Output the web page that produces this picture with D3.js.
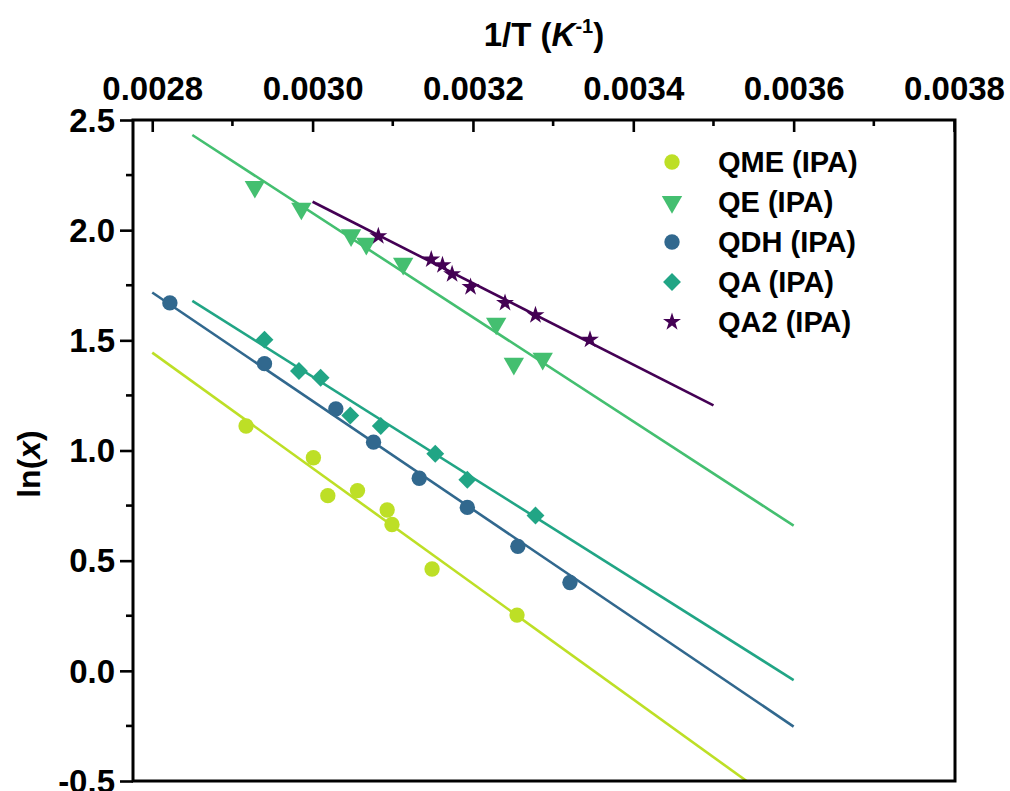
<!DOCTYPE html>
<html>
<head>
<meta charset="utf-8">
<script src="https://cdn.jsdelivr.net/npm/d3@7"></script>
<style>
  body { margin: 0; background: #ffffff; }
  text { font-family: "Liberation Sans", Arial, sans-serif; font-weight: bold; fill: #000; }
</style>
</head>
<body>
<div id="chart"></div>
<script>
// data: 1/T (K^-1) against ln(x)
var seriesNames = ["QME (IPA)", "QE (IPA)", "QDH (IPA)", "QA (IPA)", "QA2 (IPA)"];
var seriesColors = ["#bddf26", "#44bf70", "#31688e", "#21a585", "#440154"];
var seriesShapes = ["circle", "triangleDown", "circle", "diamond", "star"];

var qmeX = [0.002917, 0.003001, 0.003019, 0.003056, 0.003093, 0.003099, 0.003149, 0.003255];
var qmeY = [1.111, 0.967, 0.795, 0.818, 0.730, 0.664, 0.462, 0.253];

var qeX = [0.002928, 0.002986, 0.003048, 0.003067, 0.003113, 0.003229, 0.003251, 0.003287];
var qeY = [2.197, 2.098, 1.977, 1.939, 1.848, 1.576, 1.394, 1.417];

var qdhX = [0.002822, 0.002940, 0.003029, 0.003076, 0.003133, 0.003193, 0.003256, 0.003321];
var qdhY = [1.670, 1.394, 1.189, 1.038, 0.874, 0.742, 0.565, 0.401];

var qaX = [0.002940, 0.002983, 0.003010, 0.003047, 0.003085, 0.003153, 0.003193, 0.003278];
var qaY = [1.503, 1.361, 1.330, 1.159, 1.111, 0.985, 0.867, 0.705];

var qa2X = [0.003082, 0.003148, 0.003162, 0.003174, 0.003197, 0.003240, 0.003278, 0.003346];
var qa2Y = [1.973, 1.867, 1.841, 1.800, 1.742, 1.670, 1.614, 1.503];

// linear fits: [start, end] in x and the fitted ln(x) at those ends
var fitX = [[0.00280, 0.00360], [0.00285, 0.00360], [0.00280, 0.00360], [0.00285, 0.00360], [0.00300, 0.00350]];
var fitY = [[1.444, -0.654], [2.432, 0.659], [1.717, -0.253], [1.679, -0.042], [2.129, 1.205]];

var xTicks = [0.0028, 0.0030, 0.0032, 0.0034, 0.0036, 0.0038];
var yTicks = [-0.5, 0.0, 0.5, 1.0, 1.5, 2.0, 2.5];

var allX = [qmeX, qeX, qdhX, qaX, qa2X];
var allY = [qmeY, qeY, qdhY, qaY, qa2Y];

// ### layout
var width = 1010, height = 791;
var plot = {left: 133, right: 955, top: 120, bottom: 781};

var svg = d3.select("#chart").append("svg")
  .attr("width", width)
  .attr("height", height);

var x = d3.scaleLinear().domain([0.002776, 0.0038]).range([plot.left, 954]);
var y = d3.scaleLinear().domain([-0.5, 2.5]).range([plot.bottom, plot.top]);

svg.append("clipPath").attr("id", "plotClip")
  .append("rect")
  .attr("x", plot.left).attr("y", plot.top)
  .attr("width", plot.right - plot.left).attr("height", plot.bottom - plot.top);

// ### fit lines
var line = d3.line().x(function(d) { return x(d[0]); }).y(function(d) { return y(d[1]); });
var fitLayer = svg.append("g").attr("clip-path", "url(#plotClip)");
seriesNames.forEach(function(name, i) {
  fitLayer.append("path")
    .attr("d", line([[fitX[i][0], fitY[i][0]], [fitX[i][1], fitY[i][1]]]))
    .attr("fill", "none")
    .attr("stroke", seriesColors[i])
    .attr("stroke-width", 2.6);
});

// ### markers
function symbolPath(shape) {
  if (shape === "circle") return d3.symbol().type(d3.symbolCircle).size(185)();
  if (shape === "triangleDown") return d3.symbol().type(d3.symbolTriangle).size(180)();
  if (shape === "diamond") return d3.symbol().type(d3.symbolSquare).size(160)();
  return d3.symbol().type(d3.symbolStar).size(100)();
}
function symbolRotate(shape) {
  if (shape === "triangleDown") return " rotate(180)";
  if (shape === "diamond") return " rotate(45)";
  return "";
}

var markLayer = svg.append("g");
seriesNames.forEach(function(name, i) {
  var pts = d3.zip(allX[i], allY[i]);
  markLayer.append("g").selectAll("path")
    .data(pts).enter().append("path")
    .attr("d", symbolPath(seriesShapes[i]))
    .attr("transform", function(d) { return "translate(" + x(d[0]) + "," + y(d[1]) + ")" + symbolRotate(seriesShapes[i]); })
    .attr("fill", seriesColors[i]);
});

// ### axes
var frame = svg.append("g").attr("stroke", "#000").attr("stroke-width", 3).attr("fill", "none");
frame.append("rect")
  .attr("x", plot.left).attr("y", plot.top)
  .attr("width", plot.right - plot.left).attr("height", plot.bottom - plot.top);

// top axis, ticks pointing into the plot
var topAxis = d3.axisTop(x).tickValues(xTicks).tickSize(-12).tickFormat(d3.format(".4f")).tickPadding(20);
var gTop = svg.append("g").attr("transform", "translate(0," + plot.top + ")").call(topAxis);
var xMinor = d3.range(0.0029, 0.0038, 0.0002);
gTop.selectAll(".minor").data(xMinor).enter().append("line")
  .attr("class", "minor")
  .attr("x1", function(d) { return x(d); }).attr("x2", function(d) { return x(d); })
  .attr("y1", 0).attr("y2", 6);

// left axis, ticks pointing out; plain hyphen for the minus sign
var leftAxis = d3.axisLeft(y).tickValues(yTicks).tickSize(13)
  .tickFormat(function(d) { return d3.format(".1f")(d).replace("\u2212", "-"); })
  .tickPadding(5);
var gLeft = svg.append("g").attr("transform", "translate(" + plot.left + ",0)").call(leftAxis);
var yMinor = d3.range(-0.25, 2.5, 0.5);
gLeft.selectAll(".minor").data(yMinor).enter().append("line")
  .attr("class", "minor")
  .attr("y1", function(d) { return y(d); }).attr("y2", function(d) { return y(d); })
  .attr("x1", 0).attr("x2", -7);

[gTop, gLeft].forEach(function(g) {
  g.select(".domain").remove();
  g.selectAll("line").attr("stroke", "#000").attr("stroke-width", 2.6);
  g.selectAll("text").attr("font-size", 33).attr("font-family", null).attr("fill", "#000");
});
gLeft.selectAll("text").attr("dy", "0.34em");

// ### titles
var xTitle = svg.append("text")
  .attr("x", 544).attr("y", 46)
  .attr("text-anchor", "middle")
  .attr("font-size", 33);
xTitle.append("tspan").text("1/T (");
xTitle.append("tspan").attr("font-style", "italic").text("K");
xTitle.append("tspan").attr("font-size", 20).attr("dy", -13).text("-1");
xTitle.append("tspan").attr("dy", 13).text(")");

var yTitle = svg.append("text")
  .attr("transform", "translate(40,464) rotate(-90)")
  .attr("text-anchor", "middle")
  .attr("font-size", 32);
yTitle.append("tspan").text("ln(");
yTitle.append("tspan").attr("font-style", "italic").text("x");
yTitle.append("tspan").text(")");

// ### legend
var legend = svg.append("g").attr("transform", "translate(672,162)");
seriesNames.forEach(function(name, i) {
  var row = legend.append("g").attr("transform", "translate(0," + (i * 40) + ")");
  row.append("path")
    .attr("d", symbolPath(seriesShapes[i]))
    .attr("transform", "translate(0,0)" + symbolRotate(seriesShapes[i]))
    .attr("fill", seriesColors[i]);
  row.append("text")
    .attr("x", 46).attr("y", 10)
    .attr("font-size", 29)
    .text(name);
});
</script>
</body>
</html>
